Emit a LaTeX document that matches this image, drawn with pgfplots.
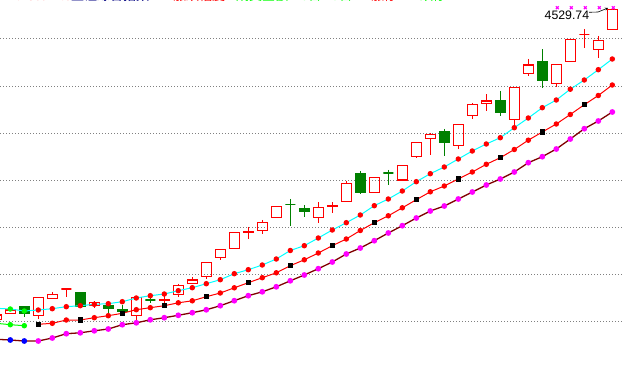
\documentclass[border=0pt]{standalone}
\usepackage{pgfplots}
\usepackage{pgfplotstable}
\pgfplotsset{compat=1.18}
\usepackage{fontspec}
\setmainfont{Liberation Sans}
\newfontfamily\cjk{Noto Sans CJK SC}
\usetikzlibrary{arrows.meta}
\definecolor{cred}{RGB}{255,0,0}
\definecolor{cgreen}{RGB}{0,128,0}
\definecolor{clime}{RGB}{0,255,0}
\definecolor{ccyan}{RGB}{0,255,255}
\definecolor{cmaroon}{RGB}{128,0,0}
\definecolor{cmag}{RGB}{255,0,255}
\definecolor{cblue}{RGB}{0,0,255}
\definecolor{cnavy}{RGB}{0,0,128}
\definecolor{cgray}{RGB}{128,128,128}

% candles: x, open, high, low, close (pixel rows, downward), r=1 red / 0 green
\pgfplotstableread{
x o h l c r
-3.7 319.3 315 319.3 315 1
10.3 313.3 309 314 310 1
24.3 306.7 306.7 316.7 313.3 0
38.3 315.5 297.3 319.3 297.3 1
52.3 298.3 292 298.3 294.7 1
66.3 289 289 296.7 289 1
80.3 293 293 306 306 0
94.3 305.3 301.3 307.5 302.3 1
108.3 305.8 305.8 314 308.8 0
122.3 309.2 304.8 315 311.3 0
136.3 315.5 297.3 322 297.3 1
150.3 300 294.5 302.5 300 0
164.3 300.7 293.5 305 299.2 1
178.3 294.7 284 296.7 285.3 1
192.3 283.7 277.2 283.7 280 1
206.3 276.8 262.3 278.7 262.3 1
220.3 257.5 249.3 259.8 249.3 1
234.3 248.5 232.3 248.5 232.3 1
248.3 232.5 227 238.7 231.2 1
262.3 230.5 220 233.7 222.3 1
276.3 217.3 206.2 217.3 206.2 1
290.3 204.8 199 225.7 204.8 0
304.3 208.3 205 217.5 211.8 0
318.3 217.5 202.2 222.7 207.3 1
332.3 206.5 202.2 212.7 205.2 1
346.3 201.3 181 201.3 183.2 1
360.3 174 171.2 193.8 192 0
374.3 192.5 177.2 192.5 177.2 1
388.3 173 170 185 173 0
402.3 180 165.3 181 165.3 1
416.3 156.7 142.3 157.5 142.3 1
430.3 138.5 133 155 134.2 1
444.3 131.2 128.8 155.7 142.7 0
458.3 145.7 124.3 149 124.3 1
472.3 115.3 103 118.7 104.3 1
486.3 103.3 94.3 110.7 101 1
500.3 101 91 115.7 112.7 0
514.3 119.3 87.3 124.7 87.3 1
528.3 73.3 59 75.7 65 1
542.3 62 49.3 87.7 80.7 0
556.3 83.3 64.3 87.3 64.3 1
570.3 61.3 39.3 61.3 39.3 1
584.3 34.7 29.3 47.7 34.7 1
598.3 49.3 36 58 40.3 1
612.3 29.3 9.3 29.3 9.3 1
}\candles

% short moving average (cyan line)
\pgfplotstableread{
x y m
-3.7 308.3 g
10.3 309 g
24.3 311 g
38.3 310 r
52.3 308.7 r
66.3 306.7 r
80.3 305.7 r
94.3 304.3 r
108.3 303.7 r
122.3 301.7 r
136.3 298 r
150.3 295.7 r
164.3 294 r
178.3 290.7 r
192.3 287.7 r
206.3 283.7 r
220.3 279.7 r
234.3 273.7 r
248.3 269.7 r
262.3 265 r
276.3 259 r
290.3 250.5 r
304.3 245.7 r
318.3 238 r
332.3 230 r
346.3 222.7 r
360.3 215 r
374.3 205.7 r
388.3 199 r
402.3 191 r
416.3 181.7 r
430.3 173.7 r
444.3 167 r
458.3 159 r
472.3 151 r
486.3 144 r
500.3 137.7 r
514.3 127.7 r
528.3 118 r
542.3 107.7 r
556.3 100 r
570.3 89.2 r
584.3 80 r
598.3 69.7 r
612.3 59 r
}\maA

% middle moving average (red line)
\pgfplotstableread{
x y m
38.3 324.3 k
52.3 323.3 r
66.3 320 r
80.3 320 k
94.3 317.7 r
108.3 315.7 r
122.3 313.3 k
136.3 309.7 r
150.3 307.7 r
164.3 305.7 k
178.3 302.8 r
192.3 300.8 r
206.3 296.7 k
220.3 293 r
234.3 287.8 r
248.3 282.7 k
262.3 277.7 r
276.3 272.8 r
290.3 265.7 k
304.3 259.8 r
318.3 253 r
332.3 245.7 k
346.3 239 r
360.3 230.5 r
374.3 222.7 k
388.3 215.8 r
402.3 207.8 r
416.3 199.7 k
430.3 191.8 r
444.3 186 r
458.3 179 k
472.3 172 r
486.3 164.3 r
500.3 157.7 k
514.3 149.5 r
528.3 140.2 r
542.3 132 k
556.3 124 r
570.3 114.5 r
584.3 104.7 k
598.3 95.5 r
612.3 85 r
}\maB

% long moving average (maroon line)
\pgfplotstableread{
x y m
-3.7 339.3 b
10.3 340 b
24.3 341 b
38.3 341 p
52.3 338 p
66.3 333.7 p
80.3 332.8 p
94.3 330.8 p
108.3 329 p
122.3 324.7 p
136.3 322.8 p
150.3 319.8 p
164.3 317.7 p
178.3 315.3 p
192.3 312.7 p
206.3 309.8 p
220.3 305.7 p
234.3 300.7 p
248.3 295.7 p
262.3 291.8 p
276.3 286.8 p
290.3 280.8 p
304.3 275 p
318.3 268.7 p
332.3 262 p
346.3 254 p
360.3 248 p
374.3 240.7 p
388.3 233 p
402.3 225.7 p
416.3 218 p
430.3 211 p
444.3 206 p
458.3 199 p
472.3 192 p
486.3 185 p
500.3 179 p
514.3 172 p
528.3 162.7 p
542.3 156.7 p
556.3 149 p
570.3 139 p
584.3 128.7 p
598.3 121 p
612.3 112 p
}\maC

\begin{document}
\begin{tikzpicture}
\begin{axis}[
  name=ax,
  scale only axis, width=622pt, height=377pt,
  xmin=0, xmax=622, ymin=0, ymax=377, y dir=reverse,
  axis line style={draw=none},
  xtick=\empty,
  ytick={38.3,86.3,133.3,180.3,227.3,274.3,321.3},
  yticklabels={},
  major tick length=0pt,
  ymajorgrids,
  grid style={cgray, line width=1pt, dash pattern=on 1pt off 2pt},
  clip=true,
]
% candles
\pgfplotstablegetrowsof{\candles}
\pgfmathtruncatemacro{\Clast}{\pgfplotsretval-1}
\pgfplotsforeachungrouped \k in {0,...,\Clast}{%
  \pgfplotstablegetelem{\k}{x}\of\candles \let\Cx\pgfplotsretval
  \pgfplotstablegetelem{\k}{o}\of\candles \let\Co\pgfplotsretval
  \pgfplotstablegetelem{\k}{h}\of\candles \let\Chi\pgfplotsretval
  \pgfplotstablegetelem{\k}{l}\of\candles \let\Clo\pgfplotsretval
  \pgfplotstablegetelem{\k}{c}\of\candles \let\Cc\pgfplotsretval
  \pgfplotstablegetelem{\k}{r}\of\candles \let\Ccol\pgfplotsretval
  \pgfmathsetmacro{\Ctop}{min(\Co,\Cc)}%
  \pgfmathsetmacro{\Cbot}{max(\Co,\Cc)}%
  \pgfmathsetmacro{\Cxl}{\Cx-5}%
  \pgfmathsetmacro{\Cxr}{\Cx+5}%
  \ifnum\Ccol=1
    \def\Cwick{cred}\def\Cbody{draw=cred}%
  \else
    \def\Cwick{cgreen}\def\Cbody{draw=cgreen, fill=cgreen}%
  \fi
  \edef\Cdo{%
    \noexpand\addplot[\Cwick, line width=1.25pt] coordinates {(\Cx,\Chi) (\Cx,\Ctop)};
    \noexpand\addplot[\Cwick, line width=1.25pt] coordinates {(\Cx,\Cbot) (\Cx,\Clo)};
    \noexpand\addplot[\Cbody, line width=1.25pt] coordinates {(\Cxl,\Ctop) (\Cxr,\Ctop) (\Cxr,\Cbot) (\Cxl,\Cbot)} -- cycle;
  }\Cdo
}
% moving averages
\addplot[ccyan, line width=1pt, scatter, scatter src=explicit symbolic, mark size=2.2pt,
  scatter/classes={g={mark=*, draw=clime, fill=clime}, r={mark=*, draw=cred, fill=cred}}]
  table[x=x, y=y, meta=m] {\maA};
\addplot[clime, line width=1pt, mark=*, mark size=2.2pt, mark options={draw=clime, fill=clime}]
  coordinates {(-3.7,323.3) (10.3,324.7) (24.3,325.7)};
\addplot[cred, line width=1pt, scatter, scatter src=explicit symbolic, mark size=2.2pt,
  scatter/classes={r={mark=*, draw=cred, fill=cred}, k={mark=square*, draw=black, fill=black}}]
  table[x=x, y=y, meta=m] {\maB};
\addplot[cmaroon, line width=1.3pt, scatter, scatter src=explicit symbolic, mark size=2.2pt,
  scatter/classes={b={mark=*, draw=cblue, fill=cblue}, p={mark=*, draw=cmag, fill=cmag}}]
  table[x=x, y=y, meta=m] {\maC};
% top markers
\addplot[only marks, cmag, mark=x, mark size=2pt, line width=1.2pt]
  coordinates {(557.3,7.7) (571.3,7.7) (585.3,7.7) (599.3,7.7) (613.3,7.7)};
\node[anchor=base west, inner sep=0pt, font=\fontsize{12.3}{12}\selectfont] at (axis cs:544.5,20) {4529.74};
\draw[black, line width=0.6pt, -{Stealth[length=3pt,width=3pt]}] (axis cs:589,12.3) -- (axis cs:598,12) -- (axis cs:608,8);
% header line (cut off at the top of the picture, as in the original)
\node[anchor=base west, inner sep=0pt, text=cred, font=\cjk\fontsize{13}{13}\selectfont] at (axis cs:2,0.9) {+1.48\%+1.5};
\node[anchor=base west, inner sep=0pt, text=cnavy, font=\cjk\fontsize{13}{13}\selectfont] at (axis cs:71,0.9) {上证综合指数};
\node[anchor=base west, inner sep=0pt, text=cred, font=\cjk\fontsize{13}{13}\selectfont] at (axis cs:173,0.9) {涨跌幅度};
\node[anchor=base west, inner sep=0pt, text=clime, font=\cjk\fontsize{13}{13}\selectfont] at (axis cs:236,0.9) {成交金额};
\node[anchor=base west, inner sep=0pt, text=clime, font=\cjk\fontsize{13}{13}\selectfont] at (axis cs:301,0.9) {5日};
\node[anchor=base west, inner sep=0pt, text=clime, font=\cjk\fontsize{13}{13}\selectfont] at (axis cs:332,0.9) {9日};
\node[anchor=base west, inner sep=0pt, text=cred, font=\cjk\fontsize{13}{13}\selectfont] at (axis cs:371,0.9) {涨停};
\node[anchor=base west, inner sep=0pt, text=clime, font=\cjk\fontsize{13}{13}\selectfont] at (axis cs:420,0.9) {跌停};
\end{axis}
\pgfresetboundingbox
\path[use as bounding box] (ax.south west) rectangle (ax.north east);
\end{tikzpicture}
\end{document}
